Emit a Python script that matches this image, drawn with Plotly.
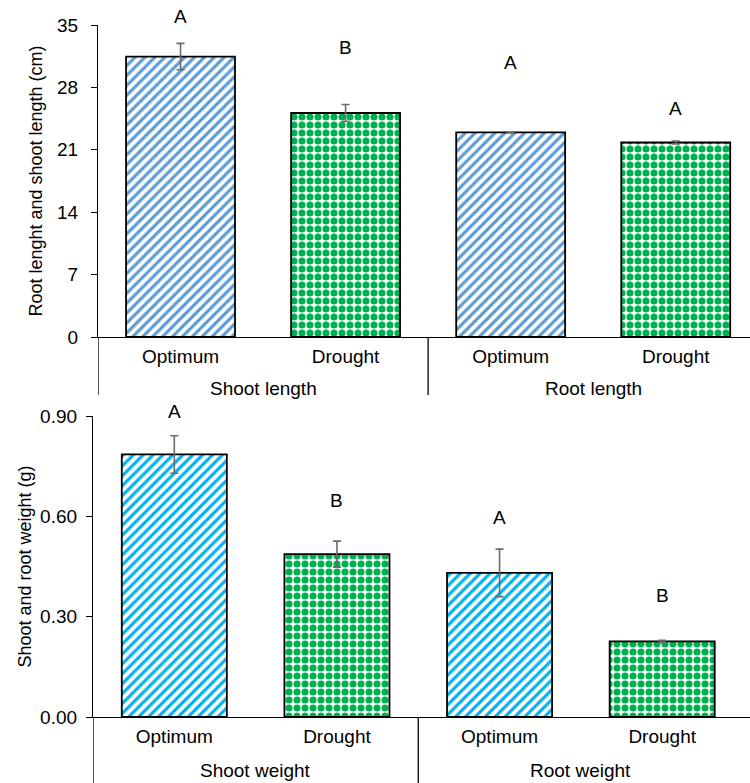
import plotly.graph_objects as go

# ---------------- data ----------------
groups_top = ["Shoot length", "Shoot length", "Root length", "Root length"]
groups_bot = ["Shoot weight", "Shoot weight", "Root weight", "Root weight"]
treatments = ["Optimum", "Drought", "Optimum", "Drought"]

length_vals = [31.46, 25.13, 22.95, 21.82]
length_err = [1.48, 0.95, 0.05, 0.15]
length_letters = ["A", "B", "A", "A"]
length_letter_y = [35.9, 32.5, 30.8, 25.6]
length_ticks = [0, 7, 14, 21, 28, 35]
length_max = 35

weight_vals = [0.785, 0.487, 0.431, 0.226]
weight_err = [0.056, 0.039, 0.071, 0.003]
weight_letters = ["A", "B", "A", "B"]
weight_letter_y = [0.914, 0.648, 0.597, 0.362]
weight_ticks = [0.0, 0.30, 0.60, 0.90]
weight_ticktext = ["0.00", "0.30", "0.60", "0.90"]
weight_max = 0.9

# ---------------- style ----------------
FONT = "Arial, Liberation Sans, sans-serif"
BLUE_TOP = "#5B9BD5"
BLUE_BOT = "#00B0F0"
GREEN = "#00B050"
W, H = 750, 783
FS = 19


def pattern(blue):
    return dict(
        shape=["/", ".", "/", "."],
        fgcolor=[blue, GREEN, blue, GREEN],
        bgcolor="white",
        fillmode="replace",
        fgopacity=1,
        size=[7, 8, 7, 8],
        solidity=[0.45, 0.62, 0.45, 0.62],
    )


def keys(groups):
    return [g + "|" + t for g, t in zip(groups, treatments)]


fig = go.Figure()
annotations = []
shapes = []


def add_panel(groups, vals, errs, letters, letter_y, ymax, blue, xa, ya, width):
    k = keys(groups)
    fig.add_trace(go.Bar(
        x=k, y=vals, xaxis=xa, yaxis=ya, width=width,
        marker=dict(color="white", line=dict(color="black", width=1.8),
                    pattern=pattern(blue)),
        error_y=dict(type="data", array=errs, visible=True,
                     color="#6b6b6b", thickness=1.6, width=4),
        showlegend=False, hoverinfo="skip",
    ))
    ydom = ya + " domain"
    for kk, lab, yy in zip(k, letters, letter_y):
        annotations.append(dict(
            x=kk, y=yy / ymax, xref=xa, yref=ydom, text=lab, showarrow=False,
            yanchor="middle", font=dict(size=FS, color="black")))


add_panel(groups_top, length_vals, length_err, length_letters, length_letter_y,
          length_max, BLUE_TOP, "x", "y", 0.66)
add_panel(groups_bot, weight_vals, weight_err, weight_letters, weight_letter_y,
          weight_max, BLUE_BOT, "x2", "y2", 0.646)


def group_decor(groups, xref, ydom, label_shift, div_len):
    uniq = []
    for g in groups:
        if g not in uniq:
            uniq.append(g)
    for g in uniq:
        idx = [i for i, gg in enumerate(groups) if gg == g]
        annotations.append(dict(
            x=sum(idx) / len(idx), y=0, xref=xref, yref=ydom, yanchor="middle",
            yshift=-label_shift, text=g, showarrow=False,
            font=dict(size=FS, color="black")))
        shapes.append(dict(
            type="line", xref=xref, yref=ydom, x0=idx[0] - 0.5, x1=idx[0] - 0.5,
            y0=0, y1=-div_len, line=dict(color="black", width=1.3)))


group_decor(groups_top, "x", "y domain", 51, 58 / 312)
group_decor(groups_bot, "x2", "y2 domain", 53, 70 / 301)

xcommon = dict(type="category", showline=True, linecolor="black", linewidth=1.3,
               ticks="", tickfont=dict(size=FS, color="black"), showgrid=False,
               zeroline=False, automargin=False, ticklabelstandoff=2)
ycommon = dict(showline=True, linecolor="black", linewidth=1.3, ticks="outside",
               ticklen=6, tickcolor="black", tickwidth=1.3, showgrid=False,
               zeroline=False, tickfont=dict(size=FS, color="black"),
               automargin=False)

fig.update_layout(
    width=W, height=H,
    margin=dict(l=0, r=0, t=0, b=0),
    paper_bgcolor="white", plot_bgcolor="white",
    font=dict(family=FONT, color="black"),
    xaxis=dict(domain=[98 / W, 1], anchor="y", range=[-0.5, 3.45],
               tickvals=keys(groups_top), ticktext=treatments, **xcommon),
    yaxis=dict(domain=[1 - 337 / H, 1 - 25 / H], anchor="x", range=[0, length_max],
               tickvals=length_ticks, ticklabelstandoff=9,
               title=dict(text="Root lenght and shoot length (cm)",
                          font=dict(size=18), standoff=9), **ycommon),
    xaxis2=dict(domain=[93 / W, 1], anchor="y2", range=[-0.5, 3.54],
                tickvals=keys(groups_bot), ticktext=treatments, **xcommon),
    yaxis2=dict(domain=[1 - 717 / H, 1 - 416 / H], anchor="x2", range=[0, weight_max],
                tickvals=weight_ticks, ticktext=weight_ticktext, ticklabelstandoff=5,
                title=dict(text="Shoot and root weight (g)",
                           font=dict(size=18), standoff=3), **ycommon),
    annotations=annotations,
    shapes=shapes,
)

fig.write_html("out.html", config={"displayModeBar": False},
               post_script="document.body.style.margin='0';")
